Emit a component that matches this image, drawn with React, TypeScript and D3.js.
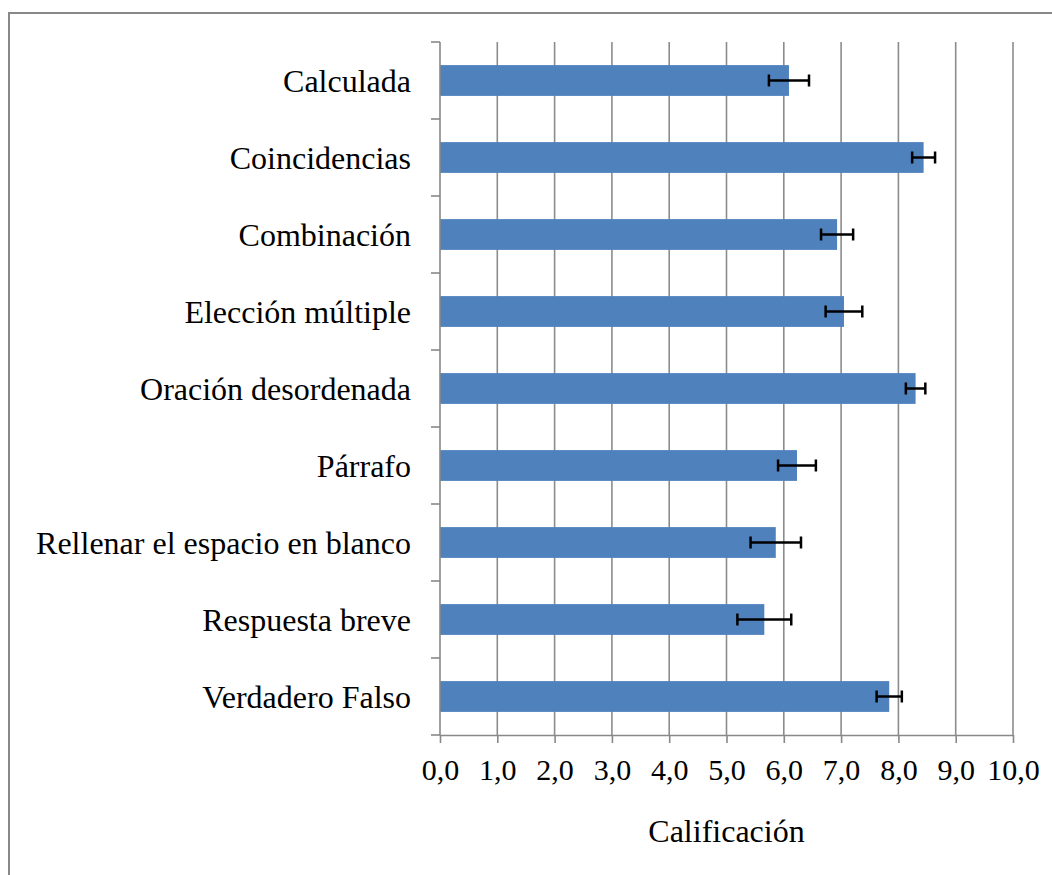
import React, { useRef, useEffect } from 'react';
import * as d3 from 'd3';

const categories = [
  'Calculada',
  'Coincidencias',
  'Combinación',
  'Elección múltiple',
  'Oración desordenada',
  'Párrafo',
  'Rellenar el espacio en blanco',
  'Respuesta breve',
  'Verdadero Falso',
];
const means = [6.09, 8.44, 6.93, 7.05, 8.3, 6.23, 5.86, 5.66, 7.84];
const errors = [0.35, 0.2, 0.28, 0.32, 0.17, 0.33, 0.44, 0.47, 0.22];
const xTicks = [0, 1, 2, 3, 4, 5, 6, 7, 8, 9, 10];
const xTitle = 'Calificación';

const W = 1052;
const H = 875;
const FONT = '"Liberation Serif", "Times New Roman", serif';

export default function App() {
  const ref = useRef<SVGSVGElement>(null);

  useEffect(() => {
    if (!ref.current) return;
    drawChart(ref.current);
  }, []);

  return (
    <svg
      ref={ref}
      width={W}
      height={H}
      style={{ position: 'absolute', left: 0, top: 0, background: '#fff' }}
    />
  );
}

function drawChart(el: SVGSVGElement) {
  const left = 440;
  const right = 1013;
  const top = 42;
  const bottom = 735;

  const svg = d3.select(el);
  svg.selectAll('*').remove();

  // outer chart frame (runs off the right and bottom edge)
  svg.append('rect')
    .attr('x', 9)
    .attr('y', 13)
    .attr('width', W + 20)
    .attr('height', H + 20)
    .attr('fill', 'none')
    .attr('stroke', '#888')
    .attr('stroke-width', 2);

  const x = d3.scaleLinear().domain([0, 10]).range([left, right]);
  const y = d3.scaleBand()
    .domain(categories)
    .range([top, bottom])
    .paddingInner(0.6)
    .paddingOuter(0.3);

  // vertical grid lines
  svg.append('g')
    .selectAll('line')
    .data(xTicks.slice(1))
    .enter()
    .append('line')
    .attr('x1', (d) => x(d))
    .attr('x2', (d) => x(d))
    .attr('y1', top)
    .attr('y2', bottom)
    .attr('stroke', '#8c8c8c')
    .attr('stroke-width', 1.6);

  // bars
  svg.append('g')
    .selectAll('rect')
    .data(categories)
    .enter()
    .append('rect')
    .attr('x', x(0))
    .attr('y', (d) => y(d)!)
    .attr('width', (_, i) => x(means[i]) - x(0))
    .attr('height', y.bandwidth())
    .attr('fill', '#4F81BD');

  // error bars
  const eb = svg.append('g').attr('stroke', '#000').attr('stroke-width', 2.5);
  categories.forEach((c, i) => {
    const cy = y(c)! + y.bandwidth() / 2;
    const x0 = x(means[i] - errors[i]);
    const x1 = x(means[i] + errors[i]);
    eb.append('line').attr('x1', x0).attr('x2', x1).attr('y1', cy).attr('y2', cy);
    eb.append('line').attr('x1', x0).attr('x2', x0).attr('y1', cy - 6).attr('y2', cy + 6);
    eb.append('line').attr('x1', x1).attr('x2', x1).attr('y1', cy - 6).attr('y2', cy + 6);
  });

  // x axis
  const xAxis = svg.append('g')
    .attr('transform', `translate(0,${bottom})`)
    .call(
      d3.axisBottom(x)
        .tickValues(xTicks)
        .tickSize(8)
        .tickSizeOuter(0)
        .tickPadding(16)
        .tickFormat((d) => d3.format('.1f')(d as number).replace('.', ','))
    );
  xAxis.select('.domain').attr('stroke', '#888').attr('stroke-width', 1.6);
  xAxis.selectAll('.tick line').attr('stroke', '#888').attr('stroke-width', 1.6);
  xAxis.selectAll('.tick text')
    .attr('fill', '#000')
    .style('font-family', FONT)
    .style('font-size', '30px');

  // y axis: ticks between categories
  const yAxis = svg.append('g').attr('transform', `translate(${left},0)`);
  yAxis.append('line')
    .attr('x1', 0).attr('x2', 0)
    .attr('y1', top).attr('y2', bottom)
    .attr('stroke', '#888').attr('stroke-width', 1.6);
  const step = y.step();
  const bounds = d3.range(categories.length + 1).map((i) => top + i * step);
  yAxis.selectAll('line.tk')
    .data(bounds)
    .enter()
    .append('line')
    .attr('class', 'tk')
    .attr('x1', -9).attr('x2', 0)
    .attr('y1', (d) => d).attr('y2', (d) => d)
    .attr('stroke', '#888').attr('stroke-width', 1.6);

  svg.append('g')
    .selectAll('text')
    .data(categories)
    .enter()
    .append('text')
    .attr('x', left - 29)
    .attr('y', (d) => y(d)! + y.bandwidth() / 2)
    .attr('dy', '0.35em')
    .attr('text-anchor', 'end')
    .style('font-family', FONT)
    .style('font-size', '32px')
    .attr('fill', '#000')
    .text((d) => d);

  svg.append('text')
    .attr('x', (left + right) / 2)
    .attr('y', 842)
    .attr('text-anchor', 'middle')
    .style('font-family', FONT)
    .style('font-size', '32px')
    .attr('fill', '#000')
    .text(xTitle);
}
